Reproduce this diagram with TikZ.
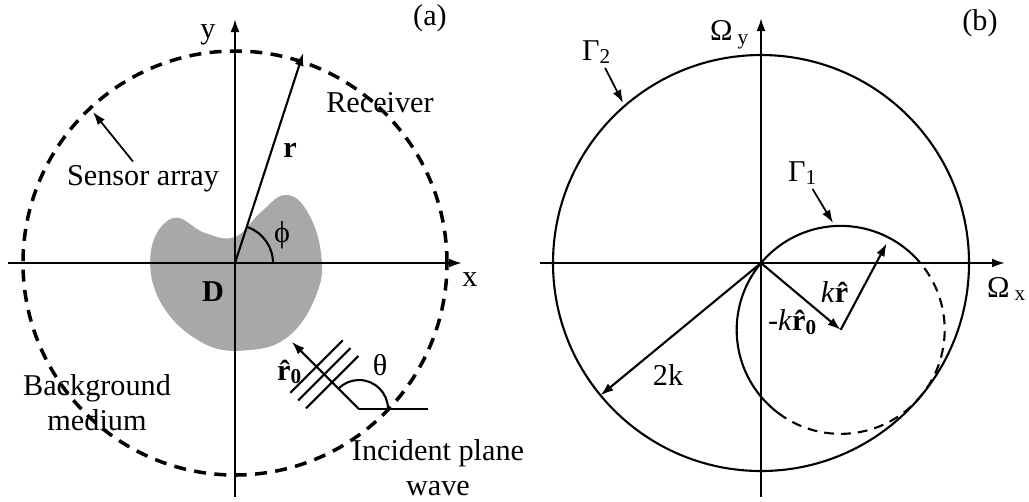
\documentclass[tikz,border=0pt]{standalone}
\usepackage{fontspec}
\setmainfont{Liberation Serif}
\usetikzlibrary{calc, positioning, arrows.meta}

\begin{document}
\begin{tikzpicture}[
  axis/.style={line width=0.6pt, -{Latex[length=1.3mm,width=0.9mm]}},
  vec/.style={line width=0.6pt, -{Latex[length=1.3mm,width=0.9mm]}},
  ptr/.style={line width=0.5pt, -{Latex[length=1.3mm,width=0.9mm]}},
  curve/.style={line width=0.6pt},
  sensor/.style={line width=1pt, dash pattern=on 3.4pt off 2.4pt},
  hidden/.style={line width=0.6pt, dash pattern=on 2.8pt off 2pt},
  blob/.style={fill=black!34},
  lbl/.style={font=\fontsize{8.6}{10}\selectfont, inner sep=1pt},
]
\useasboundingbox (0,0) rectangle (10.29,5.01);
\coordinate (Oa) at (2.35,2.38);
\coordinate (Ob) at (7.61,2.38);

\fill[blob, shift={(2.35,2.38)}] plot[smooth cycle, tension=0.7] coordinates {
  (0,0.26) (-0.30,0.30) (-0.62,0.45) (-0.84,0.12) (-0.74,-0.40) (-0.32,-0.80)
  (0.15,-0.87) (0.55,-0.72) (0.82,-0.30) (0.86,0.10) (0.72,0.52) (0.50,0.68)
  (0.25,0.50)};
\draw[sensor] (Oa) circle (2.12);
\coordinate (xa0) at (0.08,2.38);
\coordinate (xa1) at (4.62,2.38);
\coordinate (ya0) at (2.35,0.04);
\coordinate (ya1) at (2.35,4.82);
\draw[axis] (xa0) -- (xa1);
\draw[axis] (ya0) -- (ya1);
\draw[vec] (Oa) -- ++(72:2.21) coordinate (rtip);
\draw[curve] ($(Oa)+(0.38,0)$) arc (0:72:0.38);

\coordinate (P) at (3.59,0.92);
\draw[curve] (P) -- ++(0.69,0) coordinate (Pend);
\draw[vec] (P) -- ++(135:0.95) coordinate (r0tip);
\draw[curve] ($(P)+(0.29,0)$) arc (0:135:0.29);
\foreach \d in {0.38,0.49,0.60}
  \draw[curve] ($(P)+(135:\d)+(45:0.37)$) -- ($(P)+(135:\d)+(225:0.37)$);

\node[lbl] (ylab) at (2.08,4.66) {y};
\node[lbl] (xlab) at (4.70,2.21) {x};
\node[lbl] (tagA) at (4.30,4.83) {(a)};
\node[lbl] (recv) at (3.80,3.98) {Receiver};
\node[lbl] (sens) at (1.43,3.22) {Sensor array};
\coordinate (sensTip) at (0.93,3.89);
\draw[ptr] ($(sens.north)+(-0.10,0)$) -- (sensTip);
\node[lbl] (rlab) at (2.90,3.51) {\textbf{r}};
\node[lbl] (phi) at (2.82,2.66) {ϕ};
\node[lbl] (dom) at (2.13,2.09) {\textbf{D}};
\node[lbl] (theta) at (3.80,1.36) {θ};
\node[lbl] (r0) at (2.90,1.29) {\textbf{\^{r}\textsubscript{0}}};
\node[lbl, align=center] (bg) at (0.97,0.98) {Background\\medium};
\node[lbl, align=center] (inc) at (4.38,0.33) {Incident plane\\wave};

\coordinate (xb0) at (5.40,2.38);
\coordinate (xb1) at (10.05,2.38);
\coordinate (yb0) at (7.61,0.04);
\coordinate (yb1) at (7.61,4.83);
\draw[axis] (xb0) -- (xb1);
\draw[axis] (yb0) -- (yb1);
\draw[curve] (Ob) circle (2.08);
\coordinate (C) at ($(Ob)+(-40:1.04)$);
\draw[curve] (C) ++(40:1.04) arc (40:233:1.04);
\draw[hidden] (C) ++(233:1.04) arc (233:400:1.04);
\draw[vec] (Ob) -- (C);
\draw[vec] (C) -- ++(62:0.98) coordinate (ktip);
\draw[vec] (Ob) -- ++(219.5:2.08) coordinate (kk);

\node[lbl] (Oy) at (7.30,4.66) {Ω\,\textsubscript{y}};
\node[lbl] (Ox) at (10.07,2.12) {Ω\,\textsubscript{x}};
\node[lbl] (tagB) at (9.80,4.78) {(b)};
\node[lbl] (G2) at (5.97,4.49) {Γ\textsubscript{2}};
\coordinate (G2tip) at (6.23,3.98);
\draw[ptr] (G2) -- (G2tip);
\node[lbl] (G1) at (8.03,3.28) {Γ\textsubscript{1}};
\coordinate (G1tip) at (8.33,2.78);
\draw[ptr] (G1) -- (G1tip);
\node[lbl] (twok) at (6.68,1.26) {2k};
\node[lbl] (kr) at (8.37,2.09) {\textit{k}\textbf{\^{r}}};
\node[lbl] (kr0) at (7.93,1.79) {-\textit{k}\textbf{\^{r}\textsubscript{0}}};
\end{tikzpicture}
\end{document}
